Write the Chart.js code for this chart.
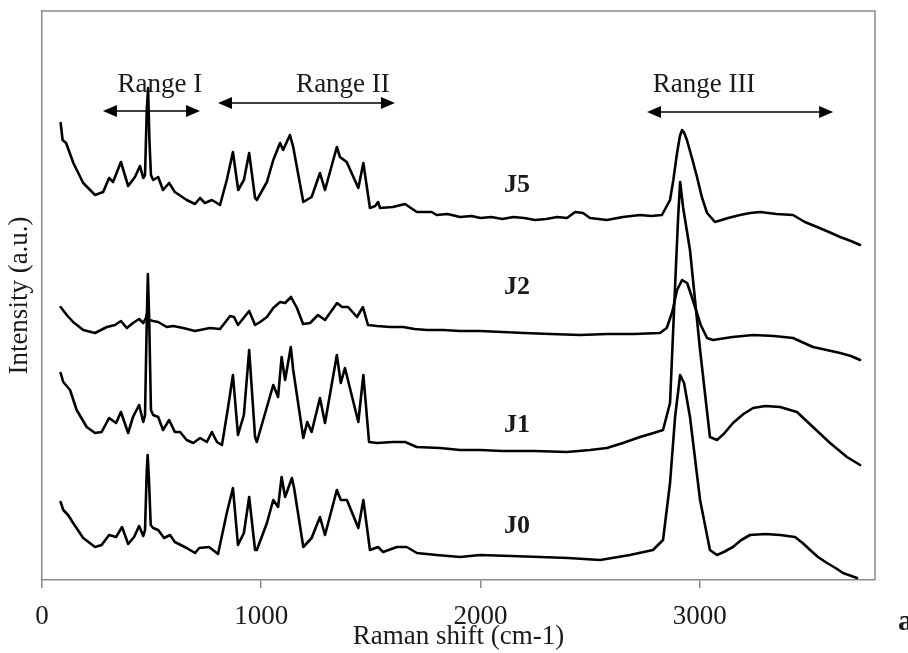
<!DOCTYPE html>
<html><head><meta charset="utf-8">
<script src="https://cdn.jsdelivr.net/npm/chart.js@4.4.0/dist/chart.umd.min.js"></script>
<style>html,body{margin:0;padding:0;background:#fff;}#wrap{width:908px;height:653px;}</style>
</head><body><div id="wrap"><canvas id="c" width="908" height="653"></canvas></div>
<script>
// Raman shift (cm-1) and intensity (a.u., offset stack)
const j5X = [85,94,110,143,188,242,279,306,324,360,393,424,447,462,470,478,484,490,497,507,530,552,580,606,660,698,721,743,775,812,843,871,895,921,945,972,980,1026,1055,1086,1100,1131,1146,1192,1230,1268,1291,1345,1359,1390,1443,1466,1496,1520,1533,1542,1600,1656,1710,1778,1800,1850,1907,1960,2000,2050,2100,2150,2200,2250,2300,2350,2395,2432,2468,2500,2577,2650,2728,2780,2828,2865,2880,2897,2910,2920,2930,2942,2965,2988,3010,3034,3070,3130,3184,3230,3276,3350,3426,3480,3536,3590,3641,3690,3732];
const j5Y = [457,440,437,417,397,385,388,402,398,418,394,403,414,402,405,470,492,440,405,400,403,390,397,388,380,376,382,377,380,375,400,428,390,400,427,382,380,398,420,437,430,445,433,378,383,407,390,433,423,418,392,417,372,374,378,372,373,376,368,368,365,366,363,364,362,363,361,363,362,360,361,363,362,368,367,362,360,363,365,364,365,380,400,427,444,450,447,440,422,403,383,367,358,362,365,367,368,366,365,358,353,348,343,339,335];

const j2X = [85,113,142,188,242,296,333,360,387,415,443,462,474,481,488,507,530,569,598,644,698,766,812,858,876,894,945,972,995,1026,1055,1086,1109,1136,1163,1191,1223,1259,1291,1346,1369,1396,1437,1464,1487,1528,1588,1647,1700,1756,1830,1907,1998,2100,2200,2320,2454,2580,2700,2819,2850,2875,2897,2920,2943,2960,2979,3005,3034,3061,3150,3244,3340,3426,3517,3580,3641,3690,3732];
const j2Y = [273,265,258,250,247,253,255,259,252,257,261,257,262,268,260,259,258,253,254,252,249,252,251,264,263,255,269,255,258,263,272,278,277,283,272,256,257,265,260,277,273,273,263,273,255,254,253,253,251,250,250,249,249,248,247,246,245,246,246,247,252,268,290,300,297,286,273,255,242,240,243,245,244,242,233,230,227,224,220];

const j1X = [85,97,128,158,204,242,272,306,338,360,393,415,443,462,470,478,483,489,497,507,530,552,580,606,630,660,690,721,752,775,798,821,849,871,894,921,945,972,980,1026,1055,1077,1093,1109,1135,1146,1192,1210,1230,1268,1291,1345,1363,1382,1443,1466,1492,1528,1600,1656,1710,1816,1907,2000,2100,2250,2395,2500,2577,2650,2728,2790,2833,2865,2888,2902,2911,2925,2956,3002,3047,3079,3110,3152,3200,3244,3300,3367,3444,3517,3595,3672,3732];
const j1Y = [207,198,190,170,153,147,148,162,157,168,147,163,175,158,165,260,306,260,170,165,163,150,160,148,148,140,137,142,138,148,138,135,173,205,145,165,230,143,138,173,195,183,223,200,233,210,142,158,148,182,157,225,197,212,158,205,138,137,138,138,133,132,130,130,129,129,128,130,132,137,143,147,150,177,294,363,398,372,330,230,143,140,146,157,166,172,174,173,168,153,137,123,115];

const j0X = [85,97,119,142,188,242,272,306,338,365,393,420,443,462,470,478,482,488,496,507,530,557,584,606,660,698,717,762,803,843,871,894,921,945,972,980,1026,1055,1077,1093,1109,1140,1150,1192,1230,1268,1291,1345,1363,1391,1443,1466,1496,1533,1556,1619,1664,1710,1800,1907,1998,2140,2272,2400,2546,2682,2787,2833,2865,2888,2911,2929,2956,3002,3047,3079,3110,3152,3190,3230,3300,3367,3435,3470,3504,3540,3581,3620,3654,3718];
const j0Y = [78,70,65,57,42,33,35,45,43,53,36,43,54,44,50,110,125,100,55,52,50,42,45,38,32,27,32,33,26,67,92,35,47,83,30,30,57,80,73,103,83,102,92,33,42,63,45,90,80,80,52,80,30,33,28,33,33,27,25,23,25,24,23,22,20,25,30,40,97,163,205,197,163,80,30,25,28,33,40,45,46,45,43,37,30,23,17,12,7,2];

const seriesNames = ['J5','J2','J1','J0'];
const seriesLabelX = [2167,2167,2167,2167];
const seriesLabelY = [395,293,155,54];

const xTicks = [0,1000,2000,3000];

const rangeLabels = ['Range I','Range II','Range III'];
const rangeFrom = [278,803,2760];
const rangeTo = [721,1610,3609];
const rangeArrowY = [469,477,468];
const rangeTextX = [538,1373,3020];
const rangeTextY = [488,488,488];

const SERIF = '"Liberation Serif", "Times New Roman", serif';
const AXIS_GREY = '#8a8a8a';
const TEXT = '#1a1a1a';

function pts(xs, ys){ return xs.map((x,i)=>({x:x, y:ys[i]})); }
const allX = [j5X,j2X,j1X,j0X];
const allY = [j5Y,j2Y,j1Y,j0Y];

const decor = {
  id:'decor',
  afterDraw(chart){
    const {ctx, chartArea:a, scales:{x, y}} = chart;
    ctx.save();
    ctx.strokeStyle = AXIS_GREY; ctx.lineWidth = 1.5;
    ctx.beginPath();
    ctx.moveTo(a.left, a.top); ctx.lineTo(a.right, a.top); ctx.lineTo(a.right, a.bottom);
    ctx.stroke();
    ctx.lineWidth = 1.5;
    for (let i=0;i<rangeLabels.length;i++){
      const x1 = x.getPixelForValue(rangeFrom[i]);
      const x2 = x.getPixelForValue(rangeTo[i]);
      const yy = y.getPixelForValue(rangeArrowY[i]);
      const hl = 14, hw = 6;
      ctx.strokeStyle = '#000'; ctx.fillStyle = '#000';
      ctx.beginPath(); ctx.moveTo(x1+hl-2, yy); ctx.lineTo(x2-hl+2, yy); ctx.stroke();
      ctx.beginPath(); ctx.moveTo(x1, yy); ctx.lineTo(x1+hl, yy-hw); ctx.lineTo(x1+hl, yy+hw); ctx.closePath(); ctx.fill();
      ctx.beginPath(); ctx.moveTo(x2, yy); ctx.lineTo(x2-hl, yy-hw); ctx.lineTo(x2-hl, yy+hw); ctx.closePath(); ctx.fill();
      ctx.fillStyle = TEXT;
      ctx.font = '27px ' + SERIF;
      ctx.textAlign = 'center'; ctx.textBaseline = 'alphabetic';
      ctx.fillText(rangeLabels[i], x.getPixelForValue(rangeTextX[i]), y.getPixelForValue(rangeTextY[i]));
    }
    ctx.fillStyle = TEXT;
    ctx.font = 'bold 26px ' + SERIF;
    ctx.textAlign = 'center'; ctx.textBaseline = 'middle';
    for (let i=0;i<seriesNames.length;i++){
      ctx.fillText(seriesNames[i], x.getPixelForValue(seriesLabelX[i]), y.getPixelForValue(seriesLabelY[i]));
    }
    ctx.font = 'bold 30px ' + SERIF;
    ctx.textAlign = 'left'; ctx.textBaseline = 'alphabetic';
    ctx.fillText('a', 898, 630);
    ctx.restore();
  }
};

new Chart(document.getElementById('c'), {
  type: 'scatter',
  data: {
    datasets: seriesNames.map((n,i)=>({
      label: n, data: pts(allX[i], allY[i]), showLine: true,
      borderColor: '#000', backgroundColor: '#000', borderWidth: 2.6,
      pointRadius: 0, tension: 0, borderJoinStyle: 'round', borderCapStyle: 'round'
    }))
  },
  options: {
    responsive: false, animation: false, devicePixelRatio: 1,
    layout: {padding: {top: 11, right: 33, left: 0, bottom: 0}},
    plugins: {legend: {display: false}, tooltip: {enabled: false}},
    scales: {
      x: {
        type: 'linear', min: 0, max: 3800,
        afterBuildTicks: s => { s.ticks = xTicks.map(v => ({value: v})); },
        afterFit: s => { s.height = 73; },
        ticks: {padding: 13, font: {family: SERIF, size: 27}, color: TEXT, maxRotation: 0, autoSkip: false,
                callback: v => String(v)},
        grid: {display: true, drawOnChartArea: false, drawTicks: true, tickLength: 8, color: AXIS_GREY, lineWidth: 1.5},
        border: {display: true, color: AXIS_GREY, width: 1.5},
        title: {display: true, text: 'Raman shift (cm-1)', font: {family: SERIF, size: 27}, color: TEXT, padding: {top: 0, bottom: 0}}
      },
      y: {
        type: 'linear', min: 0, max: 569,
        ticks: {display: false},
        grid: {display: false},
        border: {display: true, color: AXIS_GREY, width: 1.5},
        afterFit: s => { s.width = 42; },
        title: {display: true, text: 'Intensity (a.u.)', font: {family: SERIF, size: 27}, color: TEXT, padding: {top: 4, bottom: 0}}
      }
    }
  },
  plugins: [decor]
});
</script></body></html>
